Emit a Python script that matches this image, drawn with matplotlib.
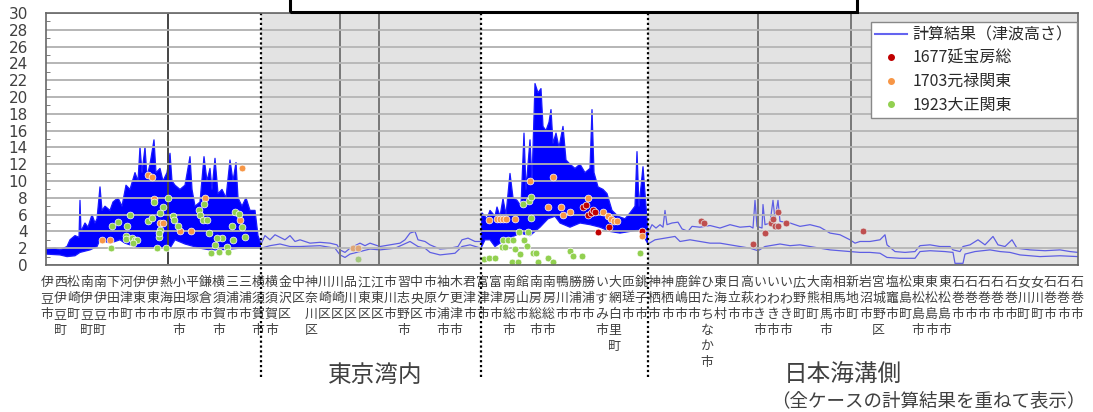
import numpy as np
import matplotlib
matplotlib.use("Agg")
import matplotlib.pyplot as plt
from matplotlib.lines import Line2D
from matplotlib.patches import Rectangle

plt.rcParams['font.family'] = ['Noto Sans CJK JP', 'DejaVu Sans']

# city labels along the coast (left to right)
cities = ['伊豆市', '西伊豆町', '松崎町', '南伊豆町', '南伊豆町', '下田市', '河津町', '伊東市',
          '伊東市', '熱海市', '小田原市', '平塚市', '鎌倉市', '横須賀市', '三浦市', '三浦市',
          '横須賀市', '横須賀市', '金沢区', '中区', '神奈川区', '川崎区', '川崎区', '品川区',
          '江東区', '江東区', '市川市', '習志野市', '中央区', '市原市', '袖ケ浦市', '木更津市',
          '君津市', '富津市', '富津市', '南房総市', '館山市', '南房総市', '南房総市', '鴨川市',
          '勝浦市', '勝浦市', 'いすみ市', '大網白里町', '匝瑳市', '銚子市', '神栖市', '神栖市',
          '鹿嶋市', '鉾田市', 'ひたちなか市', '東海村', '日立市', '高萩市', 'いわき市', 'いわき市',
          'いわき市', '広野町', '大熊町', '南相馬市', '相馬市', '新地町', '岩沼市', '宮城野区',
          '塩竈市', '松島町', '東松島市', '東松島市', '東松島市', '石巻市', '石巻市', '石巻市',
          '石巻市', '石巻市', '女川町', '女川町', '石巻市', '石巻市', '石巻市']

# calculated tsunami height, upper envelope of all cases (position along coast, m)
hi_pos = [0, 9, 14, 21, 24, 29, 33, 34, 35, 39, 42, 46, 49, 51, 54, 56, 59, 64, 67, 72, 76, 80,
          84, 89, 92, 94, 96, 99, 101, 104, 108, 110, 114, 117, 121, 124, 126, 129, 134, 139,
          144, 146, 149, 154, 158, 161, 164, 166, 169, 172, 176, 180, 184, 187, 190, 192, 196,
          200, 204, 209, 212, 215,
          219, 224, 229, 234, 239, 244, 249, 254, 264, 274, 284, 291, 294, 299, 304, 309, 314,
          319, 324, 334, 344, 354, 359, 364, 369, 372, 379, 384, 394, 404, 412, 416, 422, 429, 435,
          436, 441, 444, 449, 451, 454, 457, 460, 464, 467, 471, 475, 478, 480, 484, 486, 489,
          492, 495, 497, 500, 503, 505, 507, 510, 513, 517, 520, 524, 529, 534, 539, 544, 546,
          548, 552, 557, 561, 566, 572, 579, 584, 589, 591, 593, 597, 600, 602,
          606, 610, 614, 617, 619, 621, 626, 632, 636, 642, 646, 654, 664, 674, 684, 694, 704,
          707, 709, 711, 716, 717, 719, 724, 727, 729, 732, 734, 744, 754, 764, 774, 784, 794,
          804, 809, 814, 824, 834, 839, 841, 849, 859, 869, 874, 884, 894, 904, 907, 914, 917,
          924, 932, 939, 947, 952, 959, 966, 971, 984, 999, 1014, 1024, 1032]
hi_val = [1.9, 2.0, 1.8, 2.2, 3.0, 3.5, 3.3, 7.7, 4.0, 5.0, 4.5, 6.0, 5.0, 5.5, 9.3, 6.5, 7.0, 6.5,
          7.5, 8.0, 7.0, 9.5, 9.0, 11.0, 10.0, 14.0, 11.0, 14.0, 10.5, 12.0, 14.9, 11.0, 11.5,
          10.0, 11.0, 13.3, 10.0, 9.5, 9.0, 9.5, 12.9, 9.0, 7.0, 7.5, 12.9, 10.0, 11.5, 9.0, 12.7,
          8.5, 9.0, 8.0, 12.5, 10.0, 12.2, 8.0, 7.0, 8.0, 6.5, 6.5, 3.5, 2.5,
          3.5, 3.0, 3.6, 3.3, 3.0, 3.5, 2.8, 3.0, 2.6, 2.7, 2.6, 2.4, 1.8, 1.5, 2.0, 2.3, 2.6,
          2.3, 2.6, 2.2, 2.4, 2.6, 3.0, 3.8, 4.0, 3.0, 2.8, 2.4, 1.9, 2.0, 2.2, 3.0, 3.2, 2.8, 2.8,
          6.2, 5.5, 6.5, 5.8, 6.9, 5.8, 7.9, 6.0, 10.9, 8.0, 7.7, 7.0, 15.7, 9.0, 14.9, 10.0, 21.6,
          20.5, 21.0, 16.5, 16.0, 17.0, 18.5, 14.5, 15.7, 14.0, 16.5, 12.5, 12.0, 11.5, 12.0, 11.0,
          11.5, 18.5, 11.0, 9.3, 9.0, 8.5, 6.5, 5.8, 5.5, 6.2, 7.0, 13.5, 7.0, 11.7, 7.0, 3.8,
          4.8, 4.4, 4.8, 4.5, 6.5, 4.8, 5.0, 5.1, 4.3, 4.0, 4.6, 4.5, 4.7, 4.4, 4.8, 4.5, 4.6,
          4.4, 7.7, 4.6, 4.4, 7.2, 4.8, 5.0, 7.7, 5.5, 7.7, 5.2, 5.0, 4.6, 4.8, 4.5, 3.8, 3.6,
          3.0, 2.6, 2.8, 2.8, 3.0, 3.6, 2.4, 1.6, 1.5, 1.6, 2.3, 2.4, 2.2, 2.2, 1.8, 1.6, 2.2,
          2.4, 3.0, 2.4, 3.4, 2.4, 2.2, 3.0, 2.0, 1.8, 1.7, 1.8, 1.6, 1.5]

# lower envelope of all cases
lo_pos = [0, 14, 21, 29, 34, 44, 51, 54, 64, 74, 79, 89, 94, 114, 124, 129, 139, 154, 164, 174,
          194, 209, 215,
          224, 234, 244, 254, 274, 289, 294, 299, 304, 314, 324, 334, 349, 364, 372, 379, 384,
          394, 409, 416, 424, 435,
          439, 444, 449, 459, 464, 469, 474, 484, 494, 502, 509, 514, 524, 534, 544, 554, 564,
          574, 584, 594, 602,
          609, 619, 629, 634, 644, 654, 664, 674, 684, 694, 704, 712, 719, 734, 744, 754, 764,
          774, 784, 794, 804, 814, 824, 834, 841, 854, 869, 874, 884, 899, 907, 909, 917, 919,
          929, 944, 954, 964, 974, 994, 1014, 1032]
lo_val = [1.3, 1.2, 1.0, 1.1, 1.5, 1.8, 2.2, 3.0, 2.6, 3.0, 2.6, 2.2, 2.0, 2.0, 2.0, 3.0, 2.5,
          2.0, 1.8, 1.8, 2.0, 2.0, 2.0,
          2.3, 2.5, 2.2, 2.2, 2.3, 2.0, 1.2, 0.9, 1.3, 1.6, 1.9, 1.8, 2.0, 2.8, 2.2, 2.0, 1.5,
          1.2, 1.4, 2.2, 2.4, 2.0,
          3.0, 3.0, 2.2, 3.0, 3.2, 3.5, 3.8, 3.5, 4.5, 5.5, 5.8, 5.0, 4.5, 5.0, 4.8, 4.5, 4.0,
          3.8, 4.0, 4.2, 2.5,
          3.0, 3.2, 3.4, 2.8, 3.0, 2.8, 2.6, 2.6, 2.4, 2.2, 2.0, 1.7, 2.2, 2.5, 2.3, 2.4, 2.2,
          2.0, 1.8, 1.7, 1.6, 1.5, 1.5, 1.4, 0.9, 0.8, 0.8, 1.6, 1.7, 1.6, 1.5, 0.2, 0.2, 1.3,
          1.6, 1.8, 1.6, 1.5, 1.2, 1.0, 1.1, 1.0]

# historical tsunami traces
enpo_pos = [537, 540, 542, 545, 547, 549, 552, 563, 596, 655, 658, 707, 719, 725, 727, 732, 729,
            732, 740, 817]
enpo_val = [6.9, 7.1, 6.0, 6.2, 6.5, 6.3, 3.9, 4.5, 4.0, 5.2, 5.0, 2.5, 3.8, 5.0, 5.5, 6.3, 4.7,
            4.7, 5.0, 4.0]
genroku_pos = [56, 64, 102, 106, 108, 114, 117, 134, 145, 159, 194, 196, 307, 312, 443, 451, 454,
               457, 460, 469, 484, 502, 507, 515, 517, 524, 542, 557, 562, 565, 568, 571, 596]
genroku_val = [3.0, 3.0, 10.7, 10.5, 7.9, 5.0, 5.0, 4.0, 4.0, 8.0, 5.4, 11.6, 2.0, 2.0, 5.3, 5.5,
               5.5, 5.5, 5.5, 5.5, 10.0, 6.9, 10.5, 6.9, 6.0, 6.3, 8.0, 6.3, 5.8, 5.5, 5.2, 5.2,
               3.5]
taisho_pos = [65, 66, 72, 81, 84, 80, 80, 86, 89, 91, 87, 102, 106, 108, 111, 120, 113, 114, 113,
              117, 114, 122, 127, 128, 132, 153, 154, 157, 161, 158, 163, 165, 169, 173, 176, 171,
              181, 182, 186, 187, 189, 193, 196, 199, 312, 438, 443, 449, 457, 462, 467, 473,
              482, 478, 481, 477, 483, 485, 485, 456, 459, 469, 466, 472, 474, 487, 490, 492, 502,
              507, 524, 527, 536, 594]
taisho_val = [2.0, 4.6, 5.1, 4.6, 6.0, 3.5, 3.1, 3.2, 3.0, 3.0, 2.6, 5.2, 5.6, 7.5, 2.0, 2.0, 3.3,
              4.2, 3.8, 6.9, 6.2, 8.0, 5.8, 5.4, 4.6, 6.5, 6.0, 5.4, 5.4, 7.3, 3.8, 1.4, 2.4, 1.5,
              3.2, 3.2, 2.2, 1.5, 4.6, 3.0, 6.3, 6.1, 4.5, 3.3, 0.7, 0.7, 0.8, 0.8, 3.0, 3.0, 3.0,
              3.9, 3.9, 3.0, 2.3, 7.3, 7.6, 8.1, 5.6, 2.2, 2.2, 1.9, 0.3, 0.3, 1.3, 1.4, 1.4, 0.3,
              0.8, 0.3, 1.7, 1.1, 1.1, 1.4]

# region borders (coast position)
outer_spans = [(0, 215), (435, 602)]
inner_spans = [(215, 435), (602, 1032)]
dotted_at = [215, 435, 602]
pref_lines = [122, 294, 333, 712, 805]

fig = plt.figure(figsize=(10.93, 4.12), dpi=100)
ax = fig.add_axes([46 / 1093, 1 - 265 / 412, 1032 / 1093, 252 / 412])

hi_pos = np.array(hi_pos)
hi_val = np.array(hi_val)
lo_pos = np.array(lo_pos)
lo_val = np.array(lo_val)

# dense band of all cases in the open-coast sections
for a, b in outer_spans:
    mh = (hi_pos >= a) & (hi_pos <= b)
    ml = (lo_pos >= a) & (lo_pos <= b)
    xs = np.concatenate([hi_pos[mh], lo_pos[ml][::-1]])
    ys = np.concatenate([hi_val[mh], lo_val[ml][::-1]])
    ax.fill(xs, ys, color='#0000ff', lw=0, zorder=2)

ax.plot(hi_pos, hi_val, color='#1a1aff', lw=0.9, zorder=2.1)
ax.plot(lo_pos, lo_val, color='#1a1aff', lw=0.9, zorder=2.1)

ax.scatter(enpo_pos, enpo_val, s=24, color='#c00000', edgecolors='white', lw=0.5, zorder=2.6)
ax.scatter(genroku_pos, genroku_val, s=24, color='#f79646', edgecolors='white', lw=0.5,
           zorder=2.6)
ax.scatter(taisho_pos, taisho_val, s=24, color='#92d050', edgecolors='white', lw=0.5,
           zorder=2.6)

for p in pref_lines:
    ax.axvline(p, color='#444444', lw=1.4, zorder=2.5)

# grey shading for the bay / overlaid sections
for a, b in inner_spans:
    ax.axvspan(a, b, color='#bebebe', alpha=0.42, lw=0, zorder=3)

for p in dotted_at:
    ax.plot([p, p], [1, -0.445], transform=ax.get_xaxis_transform(), color='black',
            lw=1.6, ls=(0, (1, 1.2)), clip_on=False, zorder=4)

ax.set_xlim(0, 1032)
ax.set_ylim(0, 30)
ax.set_yticks(np.arange(0, 31, 2))
ax.set_yticks(np.arange(1, 30, 2), minor=True)
ax.yaxis.grid(True, color='#b0b0b0', lw=1.3)
ax.set_axisbelow(False)
ax.tick_params(axis='y', which='major', length=0, pad=13, labelsize=11, labelcolor='#404040')
ax.tick_params(axis='y', which='minor', direction='in', length=3, color='#666666')
for t in ax.get_yticklabels():
    t.set_family(['Liberation Sans Narrow', 'DejaVu Sans'])

ax.set_xticks(np.arange(len(cities)) * 13.2 + 1)
ax.set_xticklabels(['\n'.join(c) for c in cities], fontsize=9.3, linespacing=1.3,
                   color='#404040')
ax.tick_params(axis='x', length=0, pad=8)

for s in ax.spines.values():
    s.set_color('#666666')
    s.set_linewidth(1.2)
    s.set_zorder(4)

handles = [Line2D([], [], color='#6464f0', lw=1.5),
           Line2D([], [], ls='none', marker='o', ms=4, color='#c00000'),
           Line2D([], [], ls='none', marker='o', ms=4, color='#f79646'),
           Line2D([], [], ls='none', marker='o', ms=4, color='#92d050')]
leg = ax.legend(handles, ['計算結果（津波高さ）', '1677延宝房総', '1703元禄関東', '1923大正関東'],
                loc='upper right', bbox_to_anchor=(0.999, 0.966), fontsize=11.5,
                fancybox=False, framealpha=1, edgecolor='#888888', handlelength=2.0,
                handletextpad=0.3, labelspacing=0.4, borderpad=0.3, borderaxespad=0)
leg.set_zorder(6)
for t in leg.get_texts():
    t.set_color('#2a2a2a')

fig.text(375 / 1093, 1 - 375 / 412, '東京湾内', ha='center', va='center', fontsize=17,
         color='#404040')
fig.text(843 / 1093, 1 - 375 / 412, '日本海溝側', ha='center', va='center', fontsize=17,
         color='#404040')
fig.text(928 / 1093, 1 - 401 / 412, '（全ケースの計算結果を重ねて表示）', ha='center',
         va='center', fontsize=13.3, color='#404040')

# cut-off title box at the top
fig.patches.append(Rectangle((290 / 1093, 1 - 12 / 412), 567 / 1093, 0.1,
                             transform=fig.transFigure, fill=False, ec='black', lw=2.2))

fig.savefig('out.png', dpi=100)
